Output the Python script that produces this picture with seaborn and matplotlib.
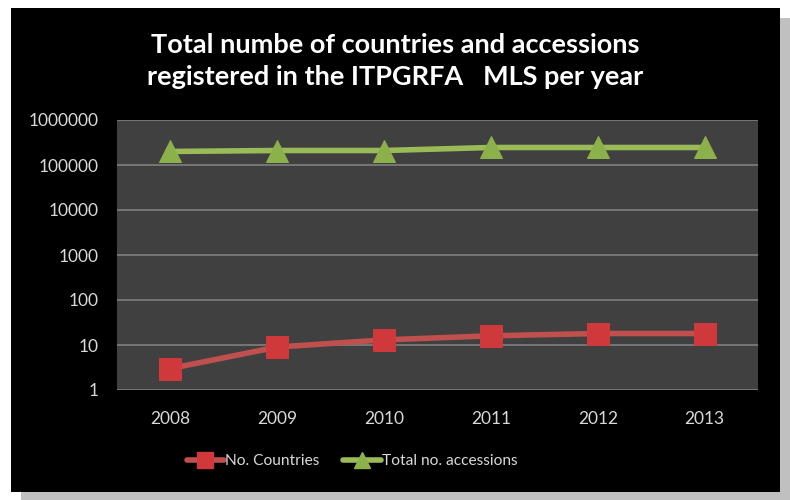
import pandas as pd
import numpy as np
import matplotlib
matplotlib.use("Agg")
from matplotlib import pyplot as plt
from matplotlib.patches import Rectangle
from matplotlib.ticker import FixedLocator, FixedFormatter, NullLocator
import seaborn as sns

# data
years = [2008, 2009, 2010, 2011, 2012, 2013]
no_countries = [3, 9, 13, 16, 18, 18]
total_accessions = [200000, 210000, 210000, 245000, 245000, 245000]
y_ticks = [1, 10, 100, 1000, 10000, 100000, 1000000]
y_tick_labels = [str(t) for t in y_ticks]

df = pd.DataFrame({
    "year": years * 2,
    "value": no_countries + total_accessions,
    "series": ["No. Countries"] * 6 + ["Total no. accessions"] * 6,
})

sns.set_theme(style="dark")
plt.rcParams['font.family'] = ['Lato', 'DejaVu Sans']

RED = "#C0504D"
GREEN = "#9BBB59"

fig = plt.figure(figsize=(7.9, 5), dpi=100, facecolor="white")
W, H = 790, 500
# shadow and black panel
fig.patches.append(Rectangle((21 / W, 0), 769 / W, (500 - 18) / H, transform=fig.transFigure,
                             facecolor="#C0C0C0", edgecolor="none", zorder=-10))
fig.patches.append(Rectangle((11 / W, 8 / H), 769 / W, 484 / H, transform=fig.transFigure,
                             facecolor="black", edgecolor="none", zorder=-9))

ax = fig.add_axes([117 / W, (500 - 390) / H, (758 - 117) / W, 270 / H])
ax.set_facecolor("#404040")

sns.lineplot(data=df, x="year", y="value", hue="series", style="series",
             palette=[RED, GREEN], markers=["s", "^"], dashes=False,
             linewidth=4, markersize=16, ax=ax, legend=False)
for ln, mc in zip(ax.lines, ["#D0393C", "#8CB04A"]):
    ln.set_markerfacecolor(mc)
    ln.set_markeredgecolor(mc)
    ln.set_solid_capstyle("round")

ax.set_yscale("log")
ax.set_ylim(1, 1000000)
ax.set_xlim(2007.5, 2013.5)
ax.yaxis.set_major_locator(FixedLocator(y_ticks))
ax.yaxis.set_major_formatter(FixedFormatter(y_tick_labels))
ax.yaxis.set_minor_locator(NullLocator())
ax.set_xticks(years)
ax.set_xticklabels([str(y) for y in years])
ax.grid(axis="y", color="#7F7F7F", linewidth=1.2)
ax.grid(axis="x", visible=False)
for s in ax.spines.values():
    s.set_visible(False)
ax.tick_params(axis="both", colors="#D9D9D9", labelsize=12.5, length=0)
ax.tick_params(axis="y", pad=13)
ax.tick_params(axis="x", pad=15)
ax.set_xlabel("")
ax.set_ylabel("")

fig.text(395 / W, 1 - 45 / H, "Total numbe of countries and accessions", ha="center", va="center",
         color="white", fontsize=19.5, fontweight="bold")
fig.text(395 / W, 1 - 77 / H, "registered in the ITPGRFA   MLS per year", ha="center", va="center",
         color="white", fontsize=19.5, fontweight="bold")

handles = [plt.Line2D([], [], color=RED, marker="s", markersize=11, linewidth=4,
                      markerfacecolor="#D0393C", markeredgecolor="#D0393C", solid_capstyle="round"),
           plt.Line2D([], [], color=GREEN, marker="^", markersize=12, linewidth=4,
                      markerfacecolor="#8CB04A", markeredgecolor="#8CB04A", solid_capstyle="round")]
leg = fig.legend(handles, ["No. Countries", "Total no. accessions"], loc="center",
                 bbox_to_anchor=(352 / W, 1 - 461 / H), ncol=2, frameon=False,
                 fontsize=11.2, handlelength=2.4, handletextpad=0.05, columnspacing=1.55)
for t in leg.get_texts():
    t.set_color("#D9D9D9")

fig.savefig("out.png", dpi=100, facecolor="white")
